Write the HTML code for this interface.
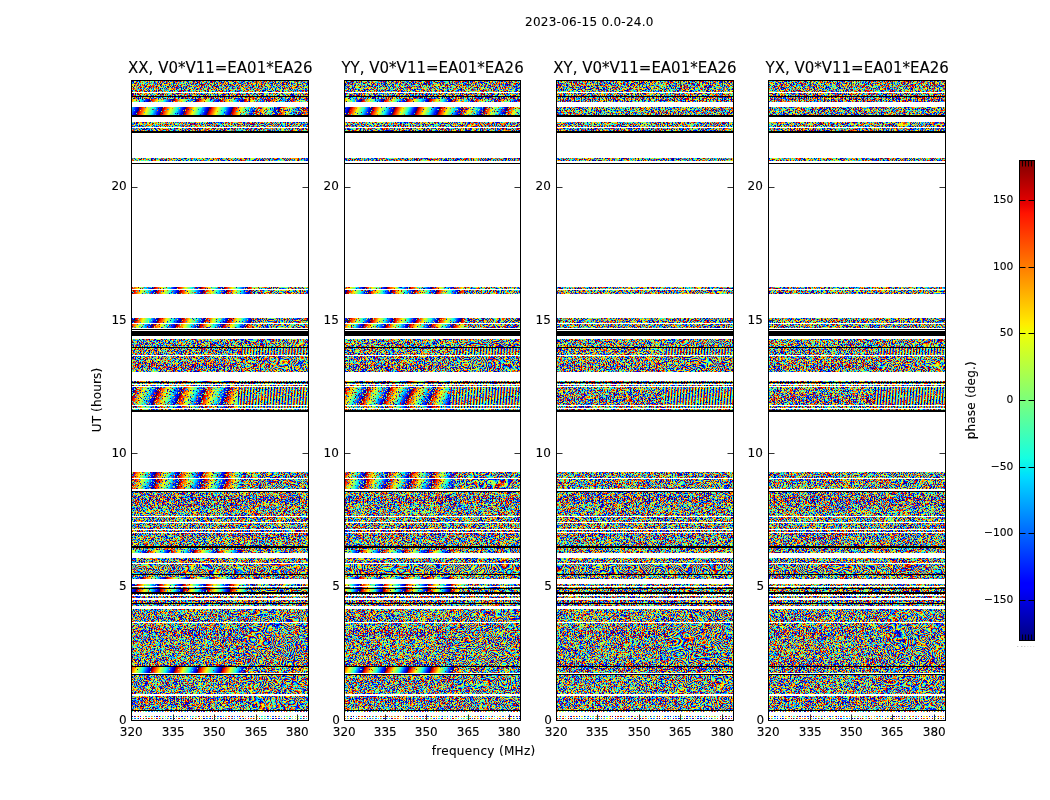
<!DOCTYPE html><html><head><meta charset="utf-8"><title>phase plot</title><style>html,body{margin:0;padding:0;background:#fff}svg{display:block}text{font-family:"DejaVu Sans","Bitstream Vera Sans","Liberation Sans",sans-serif;fill:#000;stroke:#000;stroke-width:0.1px}</style></head><body>
<svg width="1050" height="800" viewBox="0 0 1050 800">
<defs><linearGradient id="gv" gradientUnits="userSpaceOnUse" spreadMethod="repeat" x1="0" y1="0" x2="2.93" y2="0.22"><stop offset="0" stop-color="#000080"/><stop offset="0.11" stop-color="#0000ff"/><stop offset="0.12" stop-color="#0000ff"/><stop offset="0.34" stop-color="#00dbff"/><stop offset="0.35" stop-color="#00e5f7"/><stop offset="0.38" stop-color="#15ffe2"/><stop offset="0.5" stop-color="#7bff7b"/><stop offset="0.64" stop-color="#efff08"/><stop offset="0.65" stop-color="#f7f600"/><stop offset="0.66" stop-color="#ffec00"/><stop offset="0.89" stop-color="#ff1300"/><stop offset="0.91" stop-color="#e80000"/><stop offset="1" stop-color="#800000"/></linearGradient><linearGradient id="cb" x1="0" y1="1" x2="0" y2="0"><stop offset="0" stop-color="#000080"/><stop offset="0.11" stop-color="#0000ff"/><stop offset="0.12" stop-color="#0000ff"/><stop offset="0.34" stop-color="#00dbff"/><stop offset="0.35" stop-color="#00e5f7"/><stop offset="0.38" stop-color="#15ffe2"/><stop offset="0.5" stop-color="#7bff7b"/><stop offset="0.64" stop-color="#efff08"/><stop offset="0.65" stop-color="#f7f600"/><stop offset="0.66" stop-color="#ffec00"/><stop offset="0.89" stop-color="#ff1300"/><stop offset="0.91" stop-color="#e80000"/><stop offset="1" stop-color="#800000"/></linearGradient><filter id="nz" x="0" y="0" width="100%" height="100%" color-interpolation-filters="sRGB"><feTurbulence type="fractalNoise" baseFrequency="0.72 0.97" numOctaves="2" seed="3"/><feColorMatrix type="matrix" values="1 0 0 0 0 1 0 0 0 0 1 0 0 0 0 0 0 0 0 1"/><feComponentTransfer><feFuncR type="discrete" tableValues="0 0 0 0 0 0 0 0 0 0 0 0.03 0.13 0.23 0.33 0.43 0.53 0.64 0.74 0.84 0.94 1 1 1 1 1 1 1 1 0.86 0.71 0.57 0 0 0 0 0 0 0 0 0 0 0 0.03 0.13 0.23 0.33 0.43 0.53 0.64 0.74 0.84 0.94 1 1 1 1 1 1 1 1 0.86 0.71 0.57 0 0 0 0 0 0 0 0 0 0 0 0.03 0.13 0.23 0.33 0.43 0.53 0.64 0.74 0.84 0.94 1 1 1 1 1 1 1 1 0.86 0.71 0.57 0 0 0 0 0 0 0 0 0 0 0 0.03 0.13 0.23 0.33 0.43 0.53 0.64 0.74 0.84 0.94 1 1 1 1 1 1 1 1 0.86 0.71 0.57"/><feFuncG type="discrete" tableValues="0 0 0 0 0.06 0.19 0.31 0.44 0.56 0.69 0.81 0.94 1 1 1 1 1 1 1 1 1 0.88 0.77 0.65 0.53 0.42 0.3 0.19 0.07 0 0 0 0 0 0 0 0.06 0.19 0.31 0.44 0.56 0.69 0.81 0.94 1 1 1 1 1 1 1 1 1 0.88 0.77 0.65 0.53 0.42 0.3 0.19 0.07 0 0 0 0 0 0 0 0.06 0.19 0.31 0.44 0.56 0.69 0.81 0.94 1 1 1 1 1 1 1 1 1 0.88 0.77 0.65 0.53 0.42 0.3 0.19 0.07 0 0 0 0 0 0 0 0.06 0.19 0.31 0.44 0.56 0.69 0.81 0.94 1 1 1 1 1 1 1 1 1 0.88 0.77 0.65 0.53 0.42 0.3 0.19 0.07 0 0 0"/><feFuncB type="discrete" tableValues="0.57 0.71 0.86 1 1 1 1 1 1 1 1 0.94 0.84 0.74 0.64 0.53 0.43 0.33 0.23 0.13 0.03 0 0 0 0 0 0 0 0 0 0 0 0.57 0.71 0.86 1 1 1 1 1 1 1 1 0.94 0.84 0.74 0.64 0.53 0.43 0.33 0.23 0.13 0.03 0 0 0 0 0 0 0 0 0 0 0 0.57 0.71 0.86 1 1 1 1 1 1 1 1 0.94 0.84 0.74 0.64 0.53 0.43 0.33 0.23 0.13 0.03 0 0 0 0 0 0 0 0 0 0 0 0.57 0.71 0.86 1 1 1 1 1 1 1 1 0.94 0.84 0.74 0.64 0.53 0.43 0.33 0.23 0.13 0.03 0 0 0 0 0 0 0 0 0 0 0"/></feComponentTransfer><feComposite in2="SourceAlpha" operator="in"/></filter><filter id="np" x="0" y="0" width="100%" height="100%" color-interpolation-filters="sRGB"><feTurbulence type="fractalNoise" baseFrequency="0.74 0.95" numOctaves="2" seed="11" result="t"/><feColorMatrix type="matrix" values="1 0 0 0 0 1 0 0 0 0 1 0 0 0 0 0 0 0 0 1"/><feComponentTransfer><feFuncR type="discrete" tableValues="0 0 0 0 0 0 0 0 0 0 0 0.03 0.13 0.23 0.33 0.43 0.53 0.64 0.74 0.84 0.94 1 1 1 1 1 1 1 1 0.86 0.71 0.57 0 0 0 0 0 0 0 0 0 0 0 0.03 0.13 0.23 0.33 0.43 0.53 0.64 0.74 0.84 0.94 1 1 1 1 1 1 1 1 0.86 0.71 0.57 0 0 0 0 0 0 0 0 0 0 0 0.03 0.13 0.23 0.33 0.43 0.53 0.64 0.74 0.84 0.94 1 1 1 1 1 1 1 1 0.86 0.71 0.57 0 0 0 0 0 0 0 0 0 0 0 0.03 0.13 0.23 0.33 0.43 0.53 0.64 0.74 0.84 0.94 1 1 1 1 1 1 1 1 0.86 0.71 0.57"/><feFuncG type="discrete" tableValues="0 0 0 0 0.06 0.19 0.31 0.44 0.56 0.69 0.81 0.94 1 1 1 1 1 1 1 1 1 0.88 0.77 0.65 0.53 0.42 0.3 0.19 0.07 0 0 0 0 0 0 0 0.06 0.19 0.31 0.44 0.56 0.69 0.81 0.94 1 1 1 1 1 1 1 1 1 0.88 0.77 0.65 0.53 0.42 0.3 0.19 0.07 0 0 0 0 0 0 0 0.06 0.19 0.31 0.44 0.56 0.69 0.81 0.94 1 1 1 1 1 1 1 1 1 0.88 0.77 0.65 0.53 0.42 0.3 0.19 0.07 0 0 0 0 0 0 0 0.06 0.19 0.31 0.44 0.56 0.69 0.81 0.94 1 1 1 1 1 1 1 1 1 0.88 0.77 0.65 0.53 0.42 0.3 0.19 0.07 0 0 0"/><feFuncB type="discrete" tableValues="0.57 0.71 0.86 1 1 1 1 1 1 1 1 0.94 0.84 0.74 0.64 0.53 0.43 0.33 0.23 0.13 0.03 0 0 0 0 0 0 0 0 0 0 0 0.57 0.71 0.86 1 1 1 1 1 1 1 1 0.94 0.84 0.74 0.64 0.53 0.43 0.33 0.23 0.13 0.03 0 0 0 0 0 0 0 0 0 0 0 0.57 0.71 0.86 1 1 1 1 1 1 1 1 0.94 0.84 0.74 0.64 0.53 0.43 0.33 0.23 0.13 0.03 0 0 0 0 0 0 0 0 0 0 0 0.57 0.71 0.86 1 1 1 1 1 1 1 1 0.94 0.84 0.74 0.64 0.53 0.43 0.33 0.23 0.13 0.03 0 0 0 0 0 0 0 0 0 0 0"/></feComponentTransfer><feOffset result="j"/><feColorMatrix in="t" type="matrix" values="0 0 0 0 0 0 0 0 0 0 0 0 0 0 0 0 1 0 0 0" result="m"/><feComposite in="m" in2="SourceGraphic" operator="arithmetic" k1="0" k2="1" k3="1" k4="-0.5"/><feComponentTransfer><feFuncA type="discrete" tableValues="0 1"/></feComponentTransfer><feComposite in="j" operator="in"/></filter><filter id="mo" x="0" y="0" width="100%" height="100%" color-interpolation-filters="sRGB"><feTurbulence type="fractalNoise" baseFrequency="0.045 0.05" numOctaves="2" seed="7"/><feColorMatrix type="matrix" values="1 0 0 0 0 1 0 0 0 0 1 0 0 0 0 0 0 0 0 1"/><feComponentTransfer><feFuncR type="discrete" tableValues="0 0 0 0 0.32 0.65 0.97 1 1 0.73 0 0 0 0 0.32 0.65 0.97 1 1 0.73 0 0 0 0 0.32 0.65 0.97 1 1 0.73 0 0 0 0 0.32 0.65 0.97 1 1 0.73 0 0 0 0 0.32 0.65 0.97 1 1 0.73 0 0 0 0 0.32 0.65 0.97 1 1 0.73 0 0 0 0 0.32 0.65 0.97 1 1 0.73 0 0 0 0 0.32 0.65 0.97 1 1 0.73 0 0 0 0 0.32 0.65 0.97 1 1 0.73 0 0 0 0 0.32 0.65 0.97 1 1 0.73 0 0 0 0 0.32 0.65 0.97 1 1 0.73 0 0 0 0 0.32 0.65 0.97 1 1 0.73 0 0 0 0 0.32 0.65 0.97 1 1 0.73 0 0 0 0 0.32 0.65 0.97 1 1 0.73 0 0 0 0 0.32 0.65 0.97 1 1 0.73 0 0 0 0 0.32 0.65 0.97 1 1 0.73 0 0 0 0 0.32 0.65 0.97 1 1 0.73 0 0 0 0 0.32 0.65 0.97 1 1 0.73 0 0 0 0 0.32 0.65 0.97 1 1 0.73 0 0 0 0 0.32 0.65 0.97 1 1 0.73"/><feFuncG type="discrete" tableValues="0 0.1 0.5 0.9 1 1 0.96 0.59 0.22 0 0 0.1 0.5 0.9 1 1 0.96 0.59 0.22 0 0 0.1 0.5 0.9 1 1 0.96 0.59 0.22 0 0 0.1 0.5 0.9 1 1 0.96 0.59 0.22 0 0 0.1 0.5 0.9 1 1 0.96 0.59 0.22 0 0 0.1 0.5 0.9 1 1 0.96 0.59 0.22 0 0 0.1 0.5 0.9 1 1 0.96 0.59 0.22 0 0 0.1 0.5 0.9 1 1 0.96 0.59 0.22 0 0 0.1 0.5 0.9 1 1 0.96 0.59 0.22 0 0 0.1 0.5 0.9 1 1 0.96 0.59 0.22 0 0 0.1 0.5 0.9 1 1 0.96 0.59 0.22 0 0 0.1 0.5 0.9 1 1 0.96 0.59 0.22 0 0 0.1 0.5 0.9 1 1 0.96 0.59 0.22 0 0 0.1 0.5 0.9 1 1 0.96 0.59 0.22 0 0 0.1 0.5 0.9 1 1 0.96 0.59 0.22 0 0 0.1 0.5 0.9 1 1 0.96 0.59 0.22 0 0 0.1 0.5 0.9 1 1 0.96 0.59 0.22 0 0 0.1 0.5 0.9 1 1 0.96 0.59 0.22 0 0 0.1 0.5 0.9 1 1 0.96 0.59 0.22 0 0 0.1 0.5 0.9 1 1 0.96 0.59 0.22 0"/><feFuncB type="discrete" tableValues="0.73 1 1 0.97 0.65 0.32 0 0 0 0 0.73 1 1 0.97 0.65 0.32 0 0 0 0 0.73 1 1 0.97 0.65 0.32 0 0 0 0 0.73 1 1 0.97 0.65 0.32 0 0 0 0 0.73 1 1 0.97 0.65 0.32 0 0 0 0 0.73 1 1 0.97 0.65 0.32 0 0 0 0 0.73 1 1 0.97 0.65 0.32 0 0 0 0 0.73 1 1 0.97 0.65 0.32 0 0 0 0 0.73 1 1 0.97 0.65 0.32 0 0 0 0 0.73 1 1 0.97 0.65 0.32 0 0 0 0 0.73 1 1 0.97 0.65 0.32 0 0 0 0 0.73 1 1 0.97 0.65 0.32 0 0 0 0 0.73 1 1 0.97 0.65 0.32 0 0 0 0 0.73 1 1 0.97 0.65 0.32 0 0 0 0 0.73 1 1 0.97 0.65 0.32 0 0 0 0 0.73 1 1 0.97 0.65 0.32 0 0 0 0 0.73 1 1 0.97 0.65 0.32 0 0 0 0 0.73 1 1 0.97 0.65 0.32 0 0 0 0 0.73 1 1 0.97 0.65 0.32 0 0 0 0 0.73 1 1 0.97 0.65 0.32 0 0 0 0"/></feComponentTransfer><feComposite in2="SourceAlpha" operator="in"/></filter><linearGradient id="mr"><stop offset="0" stop-opacity="0.75"/><stop offset="0.2" stop-opacity="0.41"/><stop offset="0.9" stop-opacity="0.41"/><stop offset="1" stop-opacity="0.6"/></linearGradient><linearGradient id="g1" gradientUnits="userSpaceOnUse" spreadMethod="repeat" x1="170.56" y1="107.1" x2="150.3" y2="99"><stop offset="0" stop-color="#000080"/><stop offset="0.11" stop-color="#0000ff"/><stop offset="0.12" stop-color="#0000ff"/><stop offset="0.34" stop-color="#00dbff"/><stop offset="0.35" stop-color="#00e5f7"/><stop offset="0.38" stop-color="#15ffe2"/><stop offset="0.5" stop-color="#7bff7b"/><stop offset="0.64" stop-color="#efff08"/><stop offset="0.65" stop-color="#f7f600"/><stop offset="0.66" stop-color="#ffec00"/><stop offset="0.89" stop-color="#ff1300"/><stop offset="0.91" stop-color="#e80000"/><stop offset="1" stop-color="#800000"/></linearGradient><linearGradient id="r0"><stop offset="0.58" stop-opacity="0.42"/><stop offset="0.66" stop-opacity="0.52"/></linearGradient><linearGradient id="g2" gradientUnits="userSpaceOnUse" spreadMethod="repeat" x1="159.76" y1="115.1" x2="139.5" y2="107"><stop offset="0" stop-color="#000080"/><stop offset="0.11" stop-color="#0000ff"/><stop offset="0.12" stop-color="#0000ff"/><stop offset="0.34" stop-color="#00dbff"/><stop offset="0.35" stop-color="#00e5f7"/><stop offset="0.38" stop-color="#15ffe2"/><stop offset="0.5" stop-color="#7bff7b"/><stop offset="0.64" stop-color="#efff08"/><stop offset="0.65" stop-color="#f7f600"/><stop offset="0.66" stop-color="#ffec00"/><stop offset="0.89" stop-color="#ff1300"/><stop offset="0.91" stop-color="#e80000"/><stop offset="1" stop-color="#800000"/></linearGradient><linearGradient id="r1"><stop offset="0.58" stop-opacity="0.3"/><stop offset="0.66" stop-opacity="0.5"/></linearGradient><linearGradient id="g3" gradientUnits="userSpaceOnUse" spreadMethod="repeat" x1="174.16" y1="295.1" x2="153.9" y2="287"><stop offset="0" stop-color="#000080"/><stop offset="0.11" stop-color="#0000ff"/><stop offset="0.12" stop-color="#0000ff"/><stop offset="0.34" stop-color="#00dbff"/><stop offset="0.35" stop-color="#00e5f7"/><stop offset="0.38" stop-color="#15ffe2"/><stop offset="0.5" stop-color="#7bff7b"/><stop offset="0.64" stop-color="#efff08"/><stop offset="0.65" stop-color="#f7f600"/><stop offset="0.66" stop-color="#ffec00"/><stop offset="0.89" stop-color="#ff1300"/><stop offset="0.91" stop-color="#e80000"/><stop offset="1" stop-color="#800000"/></linearGradient><linearGradient id="r2"><stop offset="0.58" stop-opacity="0.4"/><stop offset="0.66" stop-opacity="0.4"/></linearGradient><linearGradient id="g4" gradientUnits="userSpaceOnUse" spreadMethod="repeat" x1="153.56" y1="298.1" x2="133.3" y2="290"><stop offset="0" stop-color="#000080"/><stop offset="0.11" stop-color="#0000ff"/><stop offset="0.12" stop-color="#0000ff"/><stop offset="0.34" stop-color="#00dbff"/><stop offset="0.35" stop-color="#00e5f7"/><stop offset="0.38" stop-color="#15ffe2"/><stop offset="0.5" stop-color="#7bff7b"/><stop offset="0.64" stop-color="#efff08"/><stop offset="0.65" stop-color="#f7f600"/><stop offset="0.66" stop-color="#ffec00"/><stop offset="0.89" stop-color="#ff1300"/><stop offset="0.91" stop-color="#e80000"/><stop offset="1" stop-color="#800000"/></linearGradient><linearGradient id="g5" gradientUnits="userSpaceOnUse" spreadMethod="repeat" x1="155.56" y1="326.1" x2="135.3" y2="318"><stop offset="0" stop-color="#000080"/><stop offset="0.11" stop-color="#0000ff"/><stop offset="0.12" stop-color="#0000ff"/><stop offset="0.34" stop-color="#00dbff"/><stop offset="0.35" stop-color="#00e5f7"/><stop offset="0.38" stop-color="#15ffe2"/><stop offset="0.5" stop-color="#7bff7b"/><stop offset="0.64" stop-color="#efff08"/><stop offset="0.65" stop-color="#f7f600"/><stop offset="0.66" stop-color="#ffec00"/><stop offset="0.89" stop-color="#ff1300"/><stop offset="0.91" stop-color="#e80000"/><stop offset="1" stop-color="#800000"/></linearGradient><linearGradient id="g6" gradientUnits="userSpaceOnUse" spreadMethod="repeat" x1="173.56" y1="332.1" x2="153.3" y2="324"><stop offset="0" stop-color="#000080"/><stop offset="0.11" stop-color="#0000ff"/><stop offset="0.12" stop-color="#0000ff"/><stop offset="0.34" stop-color="#00dbff"/><stop offset="0.35" stop-color="#00e5f7"/><stop offset="0.38" stop-color="#15ffe2"/><stop offset="0.5" stop-color="#7bff7b"/><stop offset="0.64" stop-color="#efff08"/><stop offset="0.65" stop-color="#f7f600"/><stop offset="0.66" stop-color="#ffec00"/><stop offset="0.89" stop-color="#ff1300"/><stop offset="0.91" stop-color="#e80000"/><stop offset="1" stop-color="#800000"/></linearGradient><linearGradient id="g7" gradientUnits="userSpaceOnUse" spreadMethod="repeat" x1="156.96" y1="389.1" x2="136.7" y2="381"><stop offset="0" stop-color="#000080"/><stop offset="0.11" stop-color="#0000ff"/><stop offset="0.12" stop-color="#0000ff"/><stop offset="0.34" stop-color="#00dbff"/><stop offset="0.35" stop-color="#00e5f7"/><stop offset="0.38" stop-color="#15ffe2"/><stop offset="0.5" stop-color="#7bff7b"/><stop offset="0.64" stop-color="#efff08"/><stop offset="0.65" stop-color="#f7f600"/><stop offset="0.66" stop-color="#ffec00"/><stop offset="0.89" stop-color="#ff1300"/><stop offset="0.91" stop-color="#e80000"/><stop offset="1" stop-color="#800000"/></linearGradient><linearGradient id="r3"><stop offset="0.58" stop-opacity="0.45"/><stop offset="0.66" stop-opacity="0.45"/></linearGradient><linearGradient id="g8" gradientUnits="userSpaceOnUse" spreadMethod="repeat" x1="156.36" y1="395.1" x2="136.1" y2="387"><stop offset="0" stop-color="#000080"/><stop offset="0.11" stop-color="#0000ff"/><stop offset="0.12" stop-color="#0000ff"/><stop offset="0.34" stop-color="#00dbff"/><stop offset="0.35" stop-color="#00e5f7"/><stop offset="0.38" stop-color="#15ffe2"/><stop offset="0.5" stop-color="#7bff7b"/><stop offset="0.64" stop-color="#efff08"/><stop offset="0.65" stop-color="#f7f600"/><stop offset="0.66" stop-color="#ffec00"/><stop offset="0.89" stop-color="#ff1300"/><stop offset="0.91" stop-color="#e80000"/><stop offset="1" stop-color="#800000"/></linearGradient><linearGradient id="r4"><stop offset="0.58" stop-opacity="0.46"/><stop offset="0.66" stop-opacity="0.46"/></linearGradient><linearGradient id="g9" gradientUnits="userSpaceOnUse" spreadMethod="repeat" x1="155.16" y1="414.1" x2="134.9" y2="406"><stop offset="0" stop-color="#000080"/><stop offset="0.11" stop-color="#0000ff"/><stop offset="0.12" stop-color="#0000ff"/><stop offset="0.34" stop-color="#00dbff"/><stop offset="0.35" stop-color="#00e5f7"/><stop offset="0.38" stop-color="#15ffe2"/><stop offset="0.5" stop-color="#7bff7b"/><stop offset="0.64" stop-color="#efff08"/><stop offset="0.65" stop-color="#f7f600"/><stop offset="0.66" stop-color="#ffec00"/><stop offset="0.89" stop-color="#ff1300"/><stop offset="0.91" stop-color="#e80000"/><stop offset="1" stop-color="#800000"/></linearGradient><linearGradient id="r5"><stop offset="0.58" stop-opacity="0.5"/><stop offset="0.66" stop-opacity="0.5"/></linearGradient><linearGradient id="g10" gradientUnits="userSpaceOnUse" spreadMethod="repeat" x1="152.96" y1="480.1" x2="132.7" y2="472"><stop offset="0" stop-color="#000080"/><stop offset="0.11" stop-color="#0000ff"/><stop offset="0.12" stop-color="#0000ff"/><stop offset="0.34" stop-color="#00dbff"/><stop offset="0.35" stop-color="#00e5f7"/><stop offset="0.38" stop-color="#15ffe2"/><stop offset="0.5" stop-color="#7bff7b"/><stop offset="0.64" stop-color="#efff08"/><stop offset="0.65" stop-color="#f7f600"/><stop offset="0.66" stop-color="#ffec00"/><stop offset="0.89" stop-color="#ff1300"/><stop offset="0.91" stop-color="#e80000"/><stop offset="1" stop-color="#800000"/></linearGradient><linearGradient id="g11" gradientUnits="userSpaceOnUse" spreadMethod="repeat" x1="153.76" y1="487.1" x2="133.5" y2="479"><stop offset="0" stop-color="#000080"/><stop offset="0.11" stop-color="#0000ff"/><stop offset="0.12" stop-color="#0000ff"/><stop offset="0.34" stop-color="#00dbff"/><stop offset="0.35" stop-color="#00e5f7"/><stop offset="0.38" stop-color="#15ffe2"/><stop offset="0.5" stop-color="#7bff7b"/><stop offset="0.64" stop-color="#efff08"/><stop offset="0.65" stop-color="#f7f600"/><stop offset="0.66" stop-color="#ffec00"/><stop offset="0.89" stop-color="#ff1300"/><stop offset="0.91" stop-color="#e80000"/><stop offset="1" stop-color="#800000"/></linearGradient><linearGradient id="g12" gradientUnits="userSpaceOnUse" spreadMethod="repeat" x1="167.86" y1="558.1" x2="147.6" y2="550"><stop offset="0" stop-color="#000080"/><stop offset="0.11" stop-color="#0000ff"/><stop offset="0.12" stop-color="#0000ff"/><stop offset="0.34" stop-color="#00dbff"/><stop offset="0.35" stop-color="#00e5f7"/><stop offset="0.38" stop-color="#15ffe2"/><stop offset="0.5" stop-color="#7bff7b"/><stop offset="0.64" stop-color="#efff08"/><stop offset="0.65" stop-color="#f7f600"/><stop offset="0.66" stop-color="#ffec00"/><stop offset="0.89" stop-color="#ff1300"/><stop offset="0.91" stop-color="#e80000"/><stop offset="1" stop-color="#800000"/></linearGradient><linearGradient id="r6"><stop offset="0.58" stop-opacity="0.4"/><stop offset="0.66" stop-opacity="0.6"/></linearGradient><linearGradient id="r7"><stop offset="0.58" stop-opacity="0.36"/><stop offset="0.66" stop-opacity="0.36"/></linearGradient><linearGradient id="g13" gradientUnits="userSpaceOnUse" spreadMethod="repeat" x1="163.16" y1="585.1" x2="142.9" y2="577"><stop offset="0" stop-color="#000080"/><stop offset="0.11" stop-color="#0000ff"/><stop offset="0.12" stop-color="#0000ff"/><stop offset="0.34" stop-color="#00dbff"/><stop offset="0.35" stop-color="#00e5f7"/><stop offset="0.38" stop-color="#15ffe2"/><stop offset="0.5" stop-color="#7bff7b"/><stop offset="0.64" stop-color="#efff08"/><stop offset="0.65" stop-color="#f7f600"/><stop offset="0.66" stop-color="#ffec00"/><stop offset="0.89" stop-color="#ff1300"/><stop offset="0.91" stop-color="#e80000"/><stop offset="1" stop-color="#800000"/></linearGradient><linearGradient id="g14" gradientUnits="userSpaceOnUse" spreadMethod="repeat" x1="156.16" y1="592.1" x2="135.9" y2="584"><stop offset="0" stop-color="#000080"/><stop offset="0.11" stop-color="#0000ff"/><stop offset="0.12" stop-color="#0000ff"/><stop offset="0.34" stop-color="#00dbff"/><stop offset="0.35" stop-color="#00e5f7"/><stop offset="0.38" stop-color="#15ffe2"/><stop offset="0.5" stop-color="#7bff7b"/><stop offset="0.64" stop-color="#efff08"/><stop offset="0.65" stop-color="#f7f600"/><stop offset="0.66" stop-color="#ffec00"/><stop offset="0.89" stop-color="#ff1300"/><stop offset="0.91" stop-color="#e80000"/><stop offset="1" stop-color="#800000"/></linearGradient><linearGradient id="r8"><stop offset="0.58" stop-opacity="0.35"/><stop offset="0.66" stop-opacity="0.55"/></linearGradient><linearGradient id="g15" gradientUnits="userSpaceOnUse" spreadMethod="repeat" x1="155.96" y1="595.1" x2="135.7" y2="587"><stop offset="0" stop-color="#000080"/><stop offset="0.11" stop-color="#0000ff"/><stop offset="0.12" stop-color="#0000ff"/><stop offset="0.34" stop-color="#00dbff"/><stop offset="0.35" stop-color="#00e5f7"/><stop offset="0.38" stop-color="#15ffe2"/><stop offset="0.5" stop-color="#7bff7b"/><stop offset="0.64" stop-color="#efff08"/><stop offset="0.65" stop-color="#f7f600"/><stop offset="0.66" stop-color="#ffec00"/><stop offset="0.89" stop-color="#ff1300"/><stop offset="0.91" stop-color="#e80000"/><stop offset="1" stop-color="#800000"/></linearGradient><linearGradient id="g16" gradientUnits="userSpaceOnUse" spreadMethod="repeat" x1="156.96" y1="597.1" x2="136.7" y2="589"><stop offset="0" stop-color="#000080"/><stop offset="0.11" stop-color="#0000ff"/><stop offset="0.12" stop-color="#0000ff"/><stop offset="0.34" stop-color="#00dbff"/><stop offset="0.35" stop-color="#00e5f7"/><stop offset="0.38" stop-color="#15ffe2"/><stop offset="0.5" stop-color="#7bff7b"/><stop offset="0.64" stop-color="#efff08"/><stop offset="0.65" stop-color="#f7f600"/><stop offset="0.66" stop-color="#ffec00"/><stop offset="0.89" stop-color="#ff1300"/><stop offset="0.91" stop-color="#e80000"/><stop offset="1" stop-color="#800000"/></linearGradient><linearGradient id="r9"><stop offset="0.58" stop-opacity="0.35"/><stop offset="0.66" stop-opacity="0.35"/></linearGradient><linearGradient id="g17" gradientUnits="userSpaceOnUse" spreadMethod="repeat" x1="172.71" y1="675.1" x2="152.45" y2="667"><stop offset="0" stop-color="#000080"/><stop offset="0.11" stop-color="#0000ff"/><stop offset="0.12" stop-color="#0000ff"/><stop offset="0.34" stop-color="#00dbff"/><stop offset="0.35" stop-color="#00e5f7"/><stop offset="0.38" stop-color="#15ffe2"/><stop offset="0.5" stop-color="#7bff7b"/><stop offset="0.64" stop-color="#efff08"/><stop offset="0.65" stop-color="#f7f600"/><stop offset="0.66" stop-color="#ffec00"/><stop offset="0.89" stop-color="#ff1300"/><stop offset="0.91" stop-color="#e80000"/><stop offset="1" stop-color="#800000"/></linearGradient><linearGradient id="r10"><stop offset="0.58" stop-opacity="0.25"/><stop offset="0.66" stop-opacity="0.62"/></linearGradient><linearGradient id="g18" gradientUnits="userSpaceOnUse" spreadMethod="repeat" x1="380.89" y1="107.42" x2="362.18" y2="99"><stop offset="0" stop-color="#000080"/><stop offset="0.11" stop-color="#0000ff"/><stop offset="0.12" stop-color="#0000ff"/><stop offset="0.34" stop-color="#00dbff"/><stop offset="0.35" stop-color="#00e5f7"/><stop offset="0.38" stop-color="#15ffe2"/><stop offset="0.5" stop-color="#7bff7b"/><stop offset="0.64" stop-color="#efff08"/><stop offset="0.65" stop-color="#f7f600"/><stop offset="0.66" stop-color="#ffec00"/><stop offset="0.89" stop-color="#ff1300"/><stop offset="0.91" stop-color="#e80000"/><stop offset="1" stop-color="#800000"/></linearGradient><linearGradient id="r11"><stop offset="0.58" stop-opacity="0.4"/><stop offset="0.66" stop-opacity="0.5"/></linearGradient><linearGradient id="g19" gradientUnits="userSpaceOnUse" spreadMethod="repeat" x1="369.31" y1="115.42" x2="350.6" y2="107"><stop offset="0" stop-color="#000080"/><stop offset="0.11" stop-color="#0000ff"/><stop offset="0.12" stop-color="#0000ff"/><stop offset="0.34" stop-color="#00dbff"/><stop offset="0.35" stop-color="#00e5f7"/><stop offset="0.38" stop-color="#15ffe2"/><stop offset="0.5" stop-color="#7bff7b"/><stop offset="0.64" stop-color="#efff08"/><stop offset="0.65" stop-color="#f7f600"/><stop offset="0.66" stop-color="#ffec00"/><stop offset="0.89" stop-color="#ff1300"/><stop offset="0.91" stop-color="#e80000"/><stop offset="1" stop-color="#800000"/></linearGradient><linearGradient id="r12"><stop offset="0.58" stop-opacity="0.3"/><stop offset="0.66" stop-opacity="0.45"/></linearGradient><linearGradient id="g20" gradientUnits="userSpaceOnUse" spreadMethod="repeat" x1="383.66" y1="295.42" x2="364.95" y2="287"><stop offset="0" stop-color="#000080"/><stop offset="0.11" stop-color="#0000ff"/><stop offset="0.12" stop-color="#0000ff"/><stop offset="0.34" stop-color="#00dbff"/><stop offset="0.35" stop-color="#00e5f7"/><stop offset="0.38" stop-color="#15ffe2"/><stop offset="0.5" stop-color="#7bff7b"/><stop offset="0.64" stop-color="#efff08"/><stop offset="0.65" stop-color="#f7f600"/><stop offset="0.66" stop-color="#ffec00"/><stop offset="0.89" stop-color="#ff1300"/><stop offset="0.91" stop-color="#e80000"/><stop offset="1" stop-color="#800000"/></linearGradient><linearGradient id="g21" gradientUnits="userSpaceOnUse" spreadMethod="repeat" x1="366.11" y1="298.42" x2="347.4" y2="290"><stop offset="0" stop-color="#000080"/><stop offset="0.11" stop-color="#0000ff"/><stop offset="0.12" stop-color="#0000ff"/><stop offset="0.34" stop-color="#00dbff"/><stop offset="0.35" stop-color="#00e5f7"/><stop offset="0.38" stop-color="#15ffe2"/><stop offset="0.5" stop-color="#7bff7b"/><stop offset="0.64" stop-color="#efff08"/><stop offset="0.65" stop-color="#f7f600"/><stop offset="0.66" stop-color="#ffec00"/><stop offset="0.89" stop-color="#ff1300"/><stop offset="0.91" stop-color="#e80000"/><stop offset="1" stop-color="#800000"/></linearGradient><linearGradient id="g22" gradientUnits="userSpaceOnUse" spreadMethod="repeat" x1="368.34" y1="326.42" x2="349.62" y2="318"><stop offset="0" stop-color="#000080"/><stop offset="0.11" stop-color="#0000ff"/><stop offset="0.12" stop-color="#0000ff"/><stop offset="0.34" stop-color="#00dbff"/><stop offset="0.35" stop-color="#00e5f7"/><stop offset="0.38" stop-color="#15ffe2"/><stop offset="0.5" stop-color="#7bff7b"/><stop offset="0.64" stop-color="#efff08"/><stop offset="0.65" stop-color="#f7f600"/><stop offset="0.66" stop-color="#ffec00"/><stop offset="0.89" stop-color="#ff1300"/><stop offset="0.91" stop-color="#e80000"/><stop offset="1" stop-color="#800000"/></linearGradient><linearGradient id="g23" gradientUnits="userSpaceOnUse" spreadMethod="repeat" x1="383.11" y1="332.42" x2="364.4" y2="324"><stop offset="0" stop-color="#000080"/><stop offset="0.11" stop-color="#0000ff"/><stop offset="0.12" stop-color="#0000ff"/><stop offset="0.34" stop-color="#00dbff"/><stop offset="0.35" stop-color="#00e5f7"/><stop offset="0.38" stop-color="#15ffe2"/><stop offset="0.5" stop-color="#7bff7b"/><stop offset="0.64" stop-color="#efff08"/><stop offset="0.65" stop-color="#f7f600"/><stop offset="0.66" stop-color="#ffec00"/><stop offset="0.89" stop-color="#ff1300"/><stop offset="0.91" stop-color="#e80000"/><stop offset="1" stop-color="#800000"/></linearGradient><linearGradient id="g24" gradientUnits="userSpaceOnUse" spreadMethod="repeat" x1="382.44" y1="389.42" x2="363.73" y2="381"><stop offset="0" stop-color="#000080"/><stop offset="0.11" stop-color="#0000ff"/><stop offset="0.12" stop-color="#0000ff"/><stop offset="0.34" stop-color="#00dbff"/><stop offset="0.35" stop-color="#00e5f7"/><stop offset="0.38" stop-color="#15ffe2"/><stop offset="0.5" stop-color="#7bff7b"/><stop offset="0.64" stop-color="#efff08"/><stop offset="0.65" stop-color="#f7f600"/><stop offset="0.66" stop-color="#ffec00"/><stop offset="0.89" stop-color="#ff1300"/><stop offset="0.91" stop-color="#e80000"/><stop offset="1" stop-color="#800000"/></linearGradient><linearGradient id="g25" gradientUnits="userSpaceOnUse" spreadMethod="repeat" x1="386.96" y1="395.42" x2="368.25" y2="387"><stop offset="0" stop-color="#000080"/><stop offset="0.11" stop-color="#0000ff"/><stop offset="0.12" stop-color="#0000ff"/><stop offset="0.34" stop-color="#00dbff"/><stop offset="0.35" stop-color="#00e5f7"/><stop offset="0.38" stop-color="#15ffe2"/><stop offset="0.5" stop-color="#7bff7b"/><stop offset="0.64" stop-color="#efff08"/><stop offset="0.65" stop-color="#f7f600"/><stop offset="0.66" stop-color="#ffec00"/><stop offset="0.89" stop-color="#ff1300"/><stop offset="0.91" stop-color="#e80000"/><stop offset="1" stop-color="#800000"/></linearGradient><linearGradient id="g26" gradientUnits="userSpaceOnUse" spreadMethod="repeat" x1="382.66" y1="414.42" x2="363.95" y2="406"><stop offset="0" stop-color="#000080"/><stop offset="0.11" stop-color="#0000ff"/><stop offset="0.12" stop-color="#0000ff"/><stop offset="0.34" stop-color="#00dbff"/><stop offset="0.35" stop-color="#00e5f7"/><stop offset="0.38" stop-color="#15ffe2"/><stop offset="0.5" stop-color="#7bff7b"/><stop offset="0.64" stop-color="#efff08"/><stop offset="0.65" stop-color="#f7f600"/><stop offset="0.66" stop-color="#ffec00"/><stop offset="0.89" stop-color="#ff1300"/><stop offset="0.91" stop-color="#e80000"/><stop offset="1" stop-color="#800000"/></linearGradient><linearGradient id="g27" gradientUnits="userSpaceOnUse" spreadMethod="repeat" x1="385.16" y1="480.42" x2="366.45" y2="472"><stop offset="0" stop-color="#000080"/><stop offset="0.11" stop-color="#0000ff"/><stop offset="0.12" stop-color="#0000ff"/><stop offset="0.34" stop-color="#00dbff"/><stop offset="0.35" stop-color="#00e5f7"/><stop offset="0.38" stop-color="#15ffe2"/><stop offset="0.5" stop-color="#7bff7b"/><stop offset="0.64" stop-color="#efff08"/><stop offset="0.65" stop-color="#f7f600"/><stop offset="0.66" stop-color="#ffec00"/><stop offset="0.89" stop-color="#ff1300"/><stop offset="0.91" stop-color="#e80000"/><stop offset="1" stop-color="#800000"/></linearGradient><linearGradient id="g28" gradientUnits="userSpaceOnUse" spreadMethod="repeat" x1="386.06" y1="487.42" x2="367.35" y2="479"><stop offset="0" stop-color="#000080"/><stop offset="0.11" stop-color="#0000ff"/><stop offset="0.12" stop-color="#0000ff"/><stop offset="0.34" stop-color="#00dbff"/><stop offset="0.35" stop-color="#00e5f7"/><stop offset="0.38" stop-color="#15ffe2"/><stop offset="0.5" stop-color="#7bff7b"/><stop offset="0.64" stop-color="#efff08"/><stop offset="0.65" stop-color="#f7f600"/><stop offset="0.66" stop-color="#ffec00"/><stop offset="0.89" stop-color="#ff1300"/><stop offset="0.91" stop-color="#e80000"/><stop offset="1" stop-color="#800000"/></linearGradient><linearGradient id="g29" gradientUnits="userSpaceOnUse" spreadMethod="repeat" x1="379.09" y1="558.42" x2="360.38" y2="550"><stop offset="0" stop-color="#000080"/><stop offset="0.11" stop-color="#0000ff"/><stop offset="0.12" stop-color="#0000ff"/><stop offset="0.34" stop-color="#00dbff"/><stop offset="0.35" stop-color="#00e5f7"/><stop offset="0.38" stop-color="#15ffe2"/><stop offset="0.5" stop-color="#7bff7b"/><stop offset="0.64" stop-color="#efff08"/><stop offset="0.65" stop-color="#f7f600"/><stop offset="0.66" stop-color="#ffec00"/><stop offset="0.89" stop-color="#ff1300"/><stop offset="0.91" stop-color="#e80000"/><stop offset="1" stop-color="#800000"/></linearGradient><linearGradient id="g30" gradientUnits="userSpaceOnUse" spreadMethod="repeat" x1="378.16" y1="585.42" x2="359.45" y2="577"><stop offset="0" stop-color="#000080"/><stop offset="0.11" stop-color="#0000ff"/><stop offset="0.12" stop-color="#0000ff"/><stop offset="0.34" stop-color="#00dbff"/><stop offset="0.35" stop-color="#00e5f7"/><stop offset="0.38" stop-color="#15ffe2"/><stop offset="0.5" stop-color="#7bff7b"/><stop offset="0.64" stop-color="#efff08"/><stop offset="0.65" stop-color="#f7f600"/><stop offset="0.66" stop-color="#ffec00"/><stop offset="0.89" stop-color="#ff1300"/><stop offset="0.91" stop-color="#e80000"/><stop offset="1" stop-color="#800000"/></linearGradient><linearGradient id="g31" gradientUnits="userSpaceOnUse" spreadMethod="repeat" x1="379.66" y1="592.42" x2="360.95" y2="584"><stop offset="0" stop-color="#000080"/><stop offset="0.11" stop-color="#0000ff"/><stop offset="0.12" stop-color="#0000ff"/><stop offset="0.34" stop-color="#00dbff"/><stop offset="0.35" stop-color="#00e5f7"/><stop offset="0.38" stop-color="#15ffe2"/><stop offset="0.5" stop-color="#7bff7b"/><stop offset="0.64" stop-color="#efff08"/><stop offset="0.65" stop-color="#f7f600"/><stop offset="0.66" stop-color="#ffec00"/><stop offset="0.89" stop-color="#ff1300"/><stop offset="0.91" stop-color="#e80000"/><stop offset="1" stop-color="#800000"/></linearGradient><linearGradient id="g32" gradientUnits="userSpaceOnUse" spreadMethod="repeat" x1="379.44" y1="595.42" x2="360.73" y2="587"><stop offset="0" stop-color="#000080"/><stop offset="0.11" stop-color="#0000ff"/><stop offset="0.12" stop-color="#0000ff"/><stop offset="0.34" stop-color="#00dbff"/><stop offset="0.35" stop-color="#00e5f7"/><stop offset="0.38" stop-color="#15ffe2"/><stop offset="0.5" stop-color="#7bff7b"/><stop offset="0.64" stop-color="#efff08"/><stop offset="0.65" stop-color="#f7f600"/><stop offset="0.66" stop-color="#ffec00"/><stop offset="0.89" stop-color="#ff1300"/><stop offset="0.91" stop-color="#e80000"/><stop offset="1" stop-color="#800000"/></linearGradient><linearGradient id="g33" gradientUnits="userSpaceOnUse" spreadMethod="repeat" x1="379.89" y1="597.42" x2="361.18" y2="589"><stop offset="0" stop-color="#000080"/><stop offset="0.11" stop-color="#0000ff"/><stop offset="0.12" stop-color="#0000ff"/><stop offset="0.34" stop-color="#00dbff"/><stop offset="0.35" stop-color="#00e5f7"/><stop offset="0.38" stop-color="#15ffe2"/><stop offset="0.5" stop-color="#7bff7b"/><stop offset="0.64" stop-color="#efff08"/><stop offset="0.65" stop-color="#f7f600"/><stop offset="0.66" stop-color="#ffec00"/><stop offset="0.89" stop-color="#ff1300"/><stop offset="0.91" stop-color="#e80000"/><stop offset="1" stop-color="#800000"/></linearGradient><linearGradient id="g34" gradientUnits="userSpaceOnUse" spreadMethod="repeat" x1="383.36" y1="675.42" x2="364.65" y2="667"><stop offset="0" stop-color="#000080"/><stop offset="0.11" stop-color="#0000ff"/><stop offset="0.12" stop-color="#0000ff"/><stop offset="0.34" stop-color="#00dbff"/><stop offset="0.35" stop-color="#00e5f7"/><stop offset="0.38" stop-color="#15ffe2"/><stop offset="0.5" stop-color="#7bff7b"/><stop offset="0.64" stop-color="#efff08"/><stop offset="0.65" stop-color="#f7f600"/><stop offset="0.66" stop-color="#ffec00"/><stop offset="0.89" stop-color="#ff1300"/><stop offset="0.91" stop-color="#e80000"/><stop offset="1" stop-color="#800000"/></linearGradient></defs>
<rect width="1050" height="800" fill="#fff"/>
<g shape-rendering="crispEdges"><rect x="131.5" y="99" width="177" height="3" fill="url(#g1)"/><rect x="131.5" y="107" width="177" height="8" fill="url(#g2)"/><rect x="131.5" y="287" width="177" height="2" fill="url(#g3)"/><rect x="131.5" y="290" width="177" height="4" fill="url(#g4)"/><rect x="131.5" y="318" width="177" height="5" fill="url(#g5)"/><rect x="131.5" y="324" width="177" height="4" fill="url(#g6)"/><rect x="131.5" y="381" width="177" height="1" fill="url(#g7)"/><rect x="131.5" y="387" width="177" height="18" fill="url(#g8)"/><rect x="131.5" y="406" width="177" height="2" fill="url(#g9)"/><rect x="131.5" y="472" width="177" height="6" fill="url(#g10)"/><rect x="131.5" y="479" width="177" height="10" fill="url(#g11)"/><rect x="131.5" y="550" width="177" height="3" fill="url(#g12)"/><rect x="131.5" y="577" width="177" height="2" fill="url(#g13)"/><rect x="131.5" y="584" width="177" height="2" fill="url(#g14)"/><rect x="131.5" y="587" width="177" height="1" fill="url(#g15)"/><rect x="131.5" y="589" width="177" height="3" fill="url(#g16)"/><rect x="131.5" y="667" width="177" height="6" fill="url(#g17)"/><rect x="344.5" y="99" width="176" height="3" fill="url(#g18)"/><rect x="344.5" y="107" width="176" height="8" fill="url(#g19)"/><rect x="344.5" y="287" width="176" height="2" fill="url(#g20)"/><rect x="344.5" y="290" width="176" height="4" fill="url(#g21)"/><rect x="344.5" y="318" width="176" height="5" fill="url(#g22)"/><rect x="344.5" y="324" width="176" height="4" fill="url(#g23)"/><rect x="344.5" y="381" width="176" height="1" fill="url(#g24)"/><rect x="344.5" y="387" width="176" height="18" fill="url(#g25)"/><rect x="344.5" y="406" width="176" height="2" fill="url(#g26)"/><rect x="344.5" y="472" width="176" height="6" fill="url(#g27)"/><rect x="344.5" y="479" width="176" height="10" fill="url(#g28)"/><rect x="344.5" y="550" width="176" height="3" fill="url(#g29)"/><rect x="344.5" y="577" width="176" height="2" fill="url(#g30)"/><rect x="344.5" y="584" width="176" height="2" fill="url(#g31)"/><rect x="344.5" y="587" width="176" height="1" fill="url(#g32)"/><rect x="344.5" y="589" width="176" height="3" fill="url(#g33)"/><rect x="344.5" y="667" width="176" height="6" fill="url(#g34)"/></g>
<g filter="url(#nz)"><rect x="131.5" y="80" width="177" height="12"/><rect x="131.5" y="93" width="177" height="3"/><rect x="131.5" y="97" width="177" height="2"/><rect x="131.5" y="122" width="177" height="5"/><rect x="131.5" y="128" width="177" height="3"/><rect x="131.5" y="158" width="177" height="3"/><rect x="131.5" y="339" width="177" height="8"/><rect x="131.5" y="348" width="177" height="7"/><rect x="131.5" y="356" width="177" height="16"/><rect x="131.5" y="383" width="177" height="1"/><rect x="131.5" y="385" width="177" height="1"/><rect x="131.5" y="409" width="177" height="1"/><rect x="131.5" y="492" width="177" height="24"/><rect x="131.5" y="517" width="177" height="5"/><rect x="131.5" y="523" width="177" height="6"/><rect x="131.5" y="530" width="177" height="2"/><rect x="131.5" y="533" width="177" height="13"/><rect x="131.5" y="548" width="177" height="2"/><rect x="131.5" y="558" width="177" height="5"/><rect x="131.5" y="564" width="177" height="10"/><rect x="131.5" y="575" width="177" height="2"/><rect x="131.5" y="594" width="177" height="1"/><rect x="131.5" y="596" width="177" height="2"/><rect x="131.5" y="600" width="177" height="3"/><rect x="131.5" y="604" width="177" height="2"/><rect x="131.5" y="609" width="177" height="13"/><rect x="131.5" y="623" width="177" height="43"/><rect x="131.5" y="675" width="177" height="19"/><rect x="131.5" y="696" width="177" height="14"/><rect x="131.5" y="711" width="177" height="1"/><rect x="131.5" y="716" width="177" height="1"/><rect x="131.5" y="718" width="177" height="1"/><rect x="344.5" y="80" width="176" height="12"/><rect x="344.5" y="93" width="176" height="3"/><rect x="344.5" y="97" width="176" height="2"/><rect x="344.5" y="122" width="176" height="5"/><rect x="344.5" y="128" width="176" height="3"/><rect x="344.5" y="158" width="176" height="3"/><rect x="344.5" y="339" width="176" height="8"/><rect x="344.5" y="348" width="176" height="7"/><rect x="344.5" y="356" width="176" height="16"/><rect x="344.5" y="383" width="176" height="1"/><rect x="344.5" y="385" width="176" height="1"/><rect x="344.5" y="409" width="176" height="1"/><rect x="344.5" y="492" width="176" height="24"/><rect x="344.5" y="517" width="176" height="5"/><rect x="344.5" y="523" width="176" height="6"/><rect x="344.5" y="530" width="176" height="2"/><rect x="344.5" y="533" width="176" height="13"/><rect x="344.5" y="548" width="176" height="2"/><rect x="344.5" y="558" width="176" height="5"/><rect x="344.5" y="564" width="176" height="10"/><rect x="344.5" y="575" width="176" height="2"/><rect x="344.5" y="594" width="176" height="1"/><rect x="344.5" y="596" width="176" height="2"/><rect x="344.5" y="600" width="176" height="3"/><rect x="344.5" y="604" width="176" height="2"/><rect x="344.5" y="609" width="176" height="13"/><rect x="344.5" y="623" width="176" height="43"/><rect x="344.5" y="675" width="176" height="19"/><rect x="344.5" y="696" width="176" height="14"/><rect x="344.5" y="711" width="176" height="1"/><rect x="344.5" y="716" width="176" height="1"/><rect x="344.5" y="718" width="176" height="1"/><rect x="556.5" y="80" width="177" height="12"/><rect x="556.5" y="93" width="177" height="3"/><rect x="556.5" y="97" width="177" height="2"/><rect x="556.5" y="99" width="177" height="3"/><rect x="556.5" y="107" width="177" height="8"/><rect x="556.5" y="122" width="177" height="5"/><rect x="556.5" y="128" width="177" height="3"/><rect x="556.5" y="158" width="177" height="3"/><rect x="556.5" y="287" width="177" height="2"/><rect x="556.5" y="290" width="177" height="4"/><rect x="556.5" y="318" width="177" height="5"/><rect x="556.5" y="324" width="177" height="4"/><rect x="556.5" y="339" width="177" height="8"/><rect x="556.5" y="348" width="177" height="7"/><rect x="556.5" y="356" width="177" height="16"/><rect x="556.5" y="381" width="177" height="1"/><rect x="556.5" y="383" width="177" height="1"/><rect x="556.5" y="385" width="177" height="1"/><rect x="556.5" y="387" width="177" height="18"/><rect x="556.5" y="406" width="177" height="2"/><rect x="556.5" y="409" width="177" height="1"/><rect x="556.5" y="472" width="177" height="6"/><rect x="556.5" y="479" width="177" height="10"/><rect x="556.5" y="492" width="177" height="24"/><rect x="556.5" y="517" width="177" height="5"/><rect x="556.5" y="523" width="177" height="6"/><rect x="556.5" y="530" width="177" height="2"/><rect x="556.5" y="533" width="177" height="13"/><rect x="556.5" y="548" width="177" height="2"/><rect x="556.5" y="550" width="177" height="3"/><rect x="556.5" y="558" width="177" height="5"/><rect x="556.5" y="564" width="177" height="10"/><rect x="556.5" y="575" width="177" height="2"/><rect x="556.5" y="577" width="177" height="2"/><rect x="556.5" y="584" width="177" height="2"/><rect x="556.5" y="587" width="177" height="1"/><rect x="556.5" y="589" width="177" height="3"/><rect x="556.5" y="594" width="177" height="1"/><rect x="556.5" y="596" width="177" height="2"/><rect x="556.5" y="600" width="177" height="3"/><rect x="556.5" y="604" width="177" height="2"/><rect x="556.5" y="609" width="177" height="13"/><rect x="556.5" y="623" width="177" height="43"/><rect x="556.5" y="667" width="177" height="6"/><rect x="556.5" y="675" width="177" height="19"/><rect x="556.5" y="696" width="177" height="14"/><rect x="556.5" y="711" width="177" height="1"/><rect x="556.5" y="716" width="177" height="1"/><rect x="556.5" y="718" width="177" height="1"/><rect x="768.5" y="80" width="177" height="12"/><rect x="768.5" y="93" width="177" height="3"/><rect x="768.5" y="97" width="177" height="2"/><rect x="768.5" y="99" width="177" height="3"/><rect x="768.5" y="107" width="177" height="8"/><rect x="768.5" y="122" width="177" height="5"/><rect x="768.5" y="128" width="177" height="3"/><rect x="768.5" y="158" width="177" height="3"/><rect x="768.5" y="287" width="177" height="2"/><rect x="768.5" y="290" width="177" height="4"/><rect x="768.5" y="318" width="177" height="5"/><rect x="768.5" y="324" width="177" height="4"/><rect x="768.5" y="339" width="177" height="8"/><rect x="768.5" y="348" width="177" height="7"/><rect x="768.5" y="356" width="177" height="16"/><rect x="768.5" y="381" width="177" height="1"/><rect x="768.5" y="383" width="177" height="1"/><rect x="768.5" y="385" width="177" height="1"/><rect x="768.5" y="387" width="177" height="18"/><rect x="768.5" y="406" width="177" height="2"/><rect x="768.5" y="409" width="177" height="1"/><rect x="768.5" y="472" width="177" height="6"/><rect x="768.5" y="479" width="177" height="10"/><rect x="768.5" y="492" width="177" height="24"/><rect x="768.5" y="517" width="177" height="5"/><rect x="768.5" y="523" width="177" height="6"/><rect x="768.5" y="530" width="177" height="2"/><rect x="768.5" y="533" width="177" height="13"/><rect x="768.5" y="548" width="177" height="2"/><rect x="768.5" y="550" width="177" height="3"/><rect x="768.5" y="558" width="177" height="5"/><rect x="768.5" y="564" width="177" height="10"/><rect x="768.5" y="575" width="177" height="2"/><rect x="768.5" y="577" width="177" height="2"/><rect x="768.5" y="584" width="177" height="2"/><rect x="768.5" y="587" width="177" height="1"/><rect x="768.5" y="589" width="177" height="3"/><rect x="768.5" y="594" width="177" height="1"/><rect x="768.5" y="596" width="177" height="2"/><rect x="768.5" y="600" width="177" height="3"/><rect x="768.5" y="604" width="177" height="2"/><rect x="768.5" y="609" width="177" height="13"/><rect x="768.5" y="623" width="177" height="43"/><rect x="768.5" y="667" width="177" height="6"/><rect x="768.5" y="675" width="177" height="19"/><rect x="768.5" y="696" width="177" height="14"/><rect x="768.5" y="711" width="177" height="1"/><rect x="768.5" y="716" width="177" height="1"/><rect x="768.5" y="718" width="177" height="1"/></g>
<g shape-rendering="crispEdges"><rect x="241.24" y="348" width="67.26" height="7" fill="url(#gv)"/><rect x="237.7" y="381" width="70.8" height="1" fill="url(#gv)"/><rect x="237.7" y="387" width="70.8" height="18" fill="url(#gv)"/><rect x="237.7" y="406" width="70.8" height="2" fill="url(#gv)"/><rect x="453.62" y="348" width="66.88" height="7" fill="url(#gv)"/><rect x="450.1" y="381" width="70.4" height="1" fill="url(#gv)"/><rect x="450.1" y="387" width="70.4" height="18" fill="url(#gv)"/><rect x="450.1" y="406" width="70.4" height="2" fill="url(#gv)"/><rect x="666.24" y="348" width="67.26" height="7" fill="url(#gv)"/><rect x="662.7" y="381" width="70.8" height="1" fill="url(#gv)"/><rect x="662.7" y="387" width="70.8" height="18" fill="url(#gv)"/><rect x="662.7" y="406" width="70.8" height="2" fill="url(#gv)"/><rect x="878.24" y="348" width="67.26" height="7" fill="url(#gv)"/><rect x="874.7" y="381" width="70.8" height="1" fill="url(#gv)"/><rect x="874.7" y="387" width="70.8" height="18" fill="url(#gv)"/><rect x="874.7" y="406" width="70.8" height="2" fill="url(#gv)"/></g>
<g filter="url(#mo)"><rect x="237.7" y="122" width="70.8" height="5"/><rect x="237.7" y="128" width="70.8" height="3"/><rect x="237.7" y="158" width="70.8" height="3"/><rect x="251.86" y="287" width="56.64" height="2"/><rect x="251.86" y="290" width="56.64" height="4"/><rect x="251.86" y="318" width="56.64" height="5"/><rect x="251.86" y="324" width="56.64" height="4"/><rect x="237.7" y="339" width="70.8" height="8"/><rect x="234.16" y="356" width="74.34" height="16"/><rect x="241.24" y="472" width="67.26" height="6"/><rect x="241.24" y="479" width="67.26" height="10"/><rect x="131.5" y="564" width="177" height="10"/><rect x="246.55" y="589" width="61.95" height="3"/><rect x="237.7" y="609" width="70.8" height="13"/><rect x="234.16" y="623" width="74.34" height="43"/><rect x="234.16" y="675" width="74.34" height="19"/><rect x="241.24" y="696" width="67.26" height="14"/><rect x="450.1" y="122" width="70.4" height="5"/><rect x="450.1" y="128" width="70.4" height="3"/><rect x="450.1" y="158" width="70.4" height="3"/><rect x="464.18" y="287" width="56.32" height="2"/><rect x="464.18" y="290" width="56.32" height="4"/><rect x="464.18" y="318" width="56.32" height="5"/><rect x="464.18" y="324" width="56.32" height="4"/><rect x="450.1" y="339" width="70.4" height="8"/><rect x="446.58" y="356" width="73.92" height="16"/><rect x="453.62" y="472" width="66.88" height="6"/><rect x="453.62" y="479" width="66.88" height="10"/><rect x="344.5" y="564" width="176" height="10"/><rect x="458.9" y="589" width="61.6" height="3"/><rect x="450.1" y="609" width="70.4" height="13"/><rect x="446.58" y="623" width="73.92" height="43"/><rect x="446.58" y="675" width="73.92" height="19"/><rect x="453.62" y="696" width="66.88" height="14"/><rect x="662.7" y="122" width="70.8" height="5"/><rect x="662.7" y="128" width="70.8" height="3"/><rect x="662.7" y="158" width="70.8" height="3"/><rect x="676.86" y="287" width="56.64" height="2"/><rect x="676.86" y="290" width="56.64" height="4"/><rect x="676.86" y="318" width="56.64" height="5"/><rect x="676.86" y="324" width="56.64" height="4"/><rect x="662.7" y="339" width="70.8" height="8"/><rect x="659.16" y="356" width="74.34" height="16"/><rect x="666.24" y="472" width="67.26" height="6"/><rect x="666.24" y="479" width="67.26" height="10"/><rect x="556.5" y="564" width="177" height="10"/><rect x="671.55" y="589" width="61.95" height="3"/><rect x="662.7" y="609" width="70.8" height="13"/><rect x="659.16" y="623" width="74.34" height="43"/><rect x="659.16" y="675" width="74.34" height="19"/><rect x="666.24" y="696" width="67.26" height="14"/><rect x="874.7" y="122" width="70.8" height="5"/><rect x="874.7" y="128" width="70.8" height="3"/><rect x="874.7" y="158" width="70.8" height="3"/><rect x="888.86" y="287" width="56.64" height="2"/><rect x="888.86" y="290" width="56.64" height="4"/><rect x="888.86" y="318" width="56.64" height="5"/><rect x="888.86" y="324" width="56.64" height="4"/><rect x="874.7" y="339" width="70.8" height="8"/><rect x="871.16" y="356" width="74.34" height="16"/><rect x="878.24" y="472" width="67.26" height="6"/><rect x="878.24" y="479" width="67.26" height="10"/><rect x="768.5" y="564" width="177" height="10"/><rect x="883.55" y="589" width="61.95" height="3"/><rect x="874.7" y="609" width="70.8" height="13"/><rect x="871.16" y="623" width="74.34" height="43"/><rect x="871.16" y="675" width="74.34" height="19"/><rect x="878.24" y="696" width="67.26" height="14"/></g>
<g filter="url(#np)"><rect x="131.5" y="99" width="177" height="3" fill="url(#r0)"/><rect x="131.5" y="107" width="177" height="8" fill="url(#r1)"/><rect x="237.7" y="122" width="70.8" height="5" fill="url(#mr)"/><rect x="237.7" y="128" width="70.8" height="3" fill="url(#mr)"/><rect x="237.7" y="158" width="70.8" height="3" fill="url(#mr)"/><rect x="251.86" y="287" width="56.64" height="2" fill="url(#mr)"/><rect x="131.5" y="287" width="120.36" height="2" fill="url(#r2)"/><rect x="251.86" y="290" width="56.64" height="4" fill="url(#mr)"/><rect x="131.5" y="290" width="120.36" height="4" fill="url(#r2)"/><rect x="251.86" y="318" width="56.64" height="5" fill="url(#mr)"/><rect x="131.5" y="318" width="120.36" height="5" fill="url(#r2)"/><rect x="251.86" y="324" width="56.64" height="4" fill="url(#mr)"/><rect x="131.5" y="324" width="120.36" height="4" fill="url(#r2)"/><rect x="237.7" y="339" width="70.8" height="8" fill="url(#mr)"/><rect x="241.24" y="348" width="67.26" height="7" fill="url(#r2)"/><rect x="234.16" y="356" width="74.34" height="16" fill="url(#mr)"/><rect x="237.7" y="381" width="70.8" height="1" fill="url(#r2)"/><rect x="131.5" y="381" width="106.2" height="1" fill="url(#r3)"/><rect x="237.7" y="387" width="70.8" height="18" fill="url(#r2)"/><rect x="131.5" y="387" width="106.2" height="18" fill="url(#r4)"/><rect x="237.7" y="406" width="70.8" height="2" fill="url(#r2)"/><rect x="131.5" y="406" width="106.2" height="2" fill="url(#r5)"/><rect x="241.24" y="472" width="67.26" height="6" fill="url(#mr)"/><rect x="131.5" y="472" width="109.74" height="6" fill="url(#r3)"/><rect x="241.24" y="479" width="67.26" height="10" fill="url(#mr)"/><rect x="131.5" y="479" width="109.74" height="10" fill="url(#r3)"/><rect x="131.5" y="550" width="177" height="3" fill="url(#r6)"/><rect x="131.5" y="564" width="177" height="10" fill="url(#r7)"/><rect x="131.5" y="577" width="177" height="2" fill="url(#r6)"/><rect x="131.5" y="584" width="177" height="2" fill="url(#r8)"/><rect x="131.5" y="587" width="177" height="1" fill="url(#r8)"/><rect x="246.55" y="589" width="61.95" height="3" fill="url(#mr)"/><rect x="131.5" y="589" width="115.05" height="3" fill="url(#r9)"/><rect x="237.7" y="609" width="70.8" height="13" fill="url(#mr)"/><rect x="234.16" y="623" width="74.34" height="43" fill="url(#mr)"/><rect x="131.5" y="667" width="177" height="6" fill="url(#r10)"/><rect x="234.16" y="675" width="74.34" height="19" fill="url(#mr)"/><rect x="241.24" y="696" width="67.26" height="14" fill="url(#mr)"/><rect x="344.5" y="99" width="176" height="3" fill="url(#r11)"/><rect x="344.5" y="107" width="176" height="8" fill="url(#r12)"/><rect x="450.1" y="122" width="70.4" height="5" fill="url(#mr)"/><rect x="450.1" y="128" width="70.4" height="3" fill="url(#mr)"/><rect x="450.1" y="158" width="70.4" height="3" fill="url(#mr)"/><rect x="464.18" y="287" width="56.32" height="2" fill="url(#mr)"/><rect x="344.5" y="287" width="119.68" height="2" fill="url(#r2)"/><rect x="464.18" y="290" width="56.32" height="4" fill="url(#mr)"/><rect x="344.5" y="290" width="119.68" height="4" fill="url(#r2)"/><rect x="464.18" y="318" width="56.32" height="5" fill="url(#mr)"/><rect x="344.5" y="318" width="119.68" height="5" fill="url(#r2)"/><rect x="464.18" y="324" width="56.32" height="4" fill="url(#mr)"/><rect x="344.5" y="324" width="119.68" height="4" fill="url(#r2)"/><rect x="450.1" y="339" width="70.4" height="8" fill="url(#mr)"/><rect x="453.62" y="348" width="66.88" height="7" fill="url(#r2)"/><rect x="446.58" y="356" width="73.92" height="16" fill="url(#mr)"/><rect x="450.1" y="381" width="70.4" height="1" fill="url(#r2)"/><rect x="344.5" y="381" width="105.6" height="1" fill="url(#r3)"/><rect x="450.1" y="387" width="70.4" height="18" fill="url(#r2)"/><rect x="344.5" y="387" width="105.6" height="18" fill="url(#r4)"/><rect x="450.1" y="406" width="70.4" height="2" fill="url(#r2)"/><rect x="344.5" y="406" width="105.6" height="2" fill="url(#r5)"/><rect x="453.62" y="472" width="66.88" height="6" fill="url(#mr)"/><rect x="344.5" y="472" width="109.12" height="6" fill="url(#r3)"/><rect x="453.62" y="479" width="66.88" height="10" fill="url(#mr)"/><rect x="344.5" y="479" width="109.12" height="10" fill="url(#r3)"/><rect x="344.5" y="550" width="176" height="3" fill="url(#r6)"/><rect x="344.5" y="564" width="176" height="10" fill="url(#r7)"/><rect x="344.5" y="577" width="176" height="2" fill="url(#r6)"/><rect x="344.5" y="584" width="176" height="2" fill="url(#r8)"/><rect x="344.5" y="587" width="176" height="1" fill="url(#r8)"/><rect x="458.9" y="589" width="61.6" height="3" fill="url(#mr)"/><rect x="344.5" y="589" width="114.4" height="3" fill="url(#r9)"/><rect x="450.1" y="609" width="70.4" height="13" fill="url(#mr)"/><rect x="446.58" y="623" width="73.92" height="43" fill="url(#mr)"/><rect x="344.5" y="667" width="176" height="6" fill="url(#r10)"/><rect x="446.58" y="675" width="73.92" height="19" fill="url(#mr)"/><rect x="453.62" y="696" width="66.88" height="14" fill="url(#mr)"/><rect x="662.7" y="122" width="70.8" height="5" fill="url(#mr)"/><rect x="662.7" y="128" width="70.8" height="3" fill="url(#mr)"/><rect x="662.7" y="158" width="70.8" height="3" fill="url(#mr)"/><rect x="676.86" y="287" width="56.64" height="2" fill="url(#mr)"/><rect x="676.86" y="290" width="56.64" height="4" fill="url(#mr)"/><rect x="676.86" y="318" width="56.64" height="5" fill="url(#mr)"/><rect x="676.86" y="324" width="56.64" height="4" fill="url(#mr)"/><rect x="662.7" y="339" width="70.8" height="8" fill="url(#mr)"/><rect x="666.24" y="348" width="67.26" height="7" fill="url(#r2)"/><rect x="659.16" y="356" width="74.34" height="16" fill="url(#mr)"/><rect x="662.7" y="381" width="70.8" height="1" fill="url(#r2)"/><rect x="662.7" y="387" width="70.8" height="18" fill="url(#r2)"/><rect x="662.7" y="406" width="70.8" height="2" fill="url(#r2)"/><rect x="666.24" y="472" width="67.26" height="6" fill="url(#mr)"/><rect x="666.24" y="479" width="67.26" height="10" fill="url(#mr)"/><rect x="556.5" y="564" width="177" height="10" fill="url(#r7)"/><rect x="671.55" y="589" width="61.95" height="3" fill="url(#mr)"/><rect x="662.7" y="609" width="70.8" height="13" fill="url(#mr)"/><rect x="659.16" y="623" width="74.34" height="43" fill="url(#mr)"/><rect x="659.16" y="675" width="74.34" height="19" fill="url(#mr)"/><rect x="666.24" y="696" width="67.26" height="14" fill="url(#mr)"/><rect x="874.7" y="122" width="70.8" height="5" fill="url(#mr)"/><rect x="874.7" y="128" width="70.8" height="3" fill="url(#mr)"/><rect x="874.7" y="158" width="70.8" height="3" fill="url(#mr)"/><rect x="888.86" y="287" width="56.64" height="2" fill="url(#mr)"/><rect x="888.86" y="290" width="56.64" height="4" fill="url(#mr)"/><rect x="888.86" y="318" width="56.64" height="5" fill="url(#mr)"/><rect x="888.86" y="324" width="56.64" height="4" fill="url(#mr)"/><rect x="874.7" y="339" width="70.8" height="8" fill="url(#mr)"/><rect x="878.24" y="348" width="67.26" height="7" fill="url(#r2)"/><rect x="871.16" y="356" width="74.34" height="16" fill="url(#mr)"/><rect x="874.7" y="381" width="70.8" height="1" fill="url(#r2)"/><rect x="874.7" y="387" width="70.8" height="18" fill="url(#r2)"/><rect x="874.7" y="406" width="70.8" height="2" fill="url(#r2)"/><rect x="878.24" y="472" width="67.26" height="6" fill="url(#mr)"/><rect x="878.24" y="479" width="67.26" height="10" fill="url(#mr)"/><rect x="768.5" y="564" width="177" height="10" fill="url(#r7)"/><rect x="883.55" y="589" width="61.95" height="3" fill="url(#mr)"/><rect x="874.7" y="609" width="70.8" height="13" fill="url(#mr)"/><rect x="871.16" y="623" width="74.34" height="43" fill="url(#mr)"/><rect x="871.16" y="675" width="74.34" height="19" fill="url(#mr)"/><rect x="878.24" y="696" width="67.26" height="14" fill="url(#mr)"/></g>
<path d="M131.5 594.5h177M131.5 711.5h177M131.5 716.5h177M131.5 718.5h177M344.5 594.5h176M344.5 711.5h176M344.5 716.5h176M344.5 718.5h176M556.5 594.5h177M556.5 711.5h177M556.5 716.5h177M556.5 718.5h177M768.5 594.5h177M768.5 711.5h177M768.5 716.5h177M768.5 718.5h177" stroke="#fff" stroke-width="1" stroke-dasharray="1.1 1.6641" stroke-dashoffset="1.1" fill="none" shape-rendering="crispEdges"/>
<g fill="#000" shape-rendering="crispEdges"><rect x="131.5" y="96" width="177" height="1"/><rect x="131.5" y="115" width="177" height="2"/><rect x="131.5" y="131" width="177" height="2"/><rect x="131.5" y="163" width="177" height="1"/><rect x="131.5" y="329" width="177" height="1"/><rect x="131.5" y="331" width="177" height="5"/><rect x="131.5" y="347" width="177" height="1"/><rect x="131.5" y="382" width="177" height="1"/><rect x="131.5" y="410" width="177" height="2"/><rect x="131.5" y="491" width="177" height="1"/><rect x="131.5" y="546" width="177" height="2"/><rect x="131.5" y="574" width="177" height="1"/><rect x="131.5" y="588" width="177" height="1"/><rect x="131.5" y="592" width="177" height="2"/><rect x="131.5" y="603" width="177" height="1"/><rect x="131.5" y="666" width="177" height="1"/><rect x="131.5" y="674" width="177" height="1"/><rect x="131.5" y="710" width="177" height="1"/><rect x="344.5" y="96" width="176" height="1"/><rect x="344.5" y="115" width="176" height="2"/><rect x="344.5" y="131" width="176" height="2"/><rect x="344.5" y="163" width="176" height="1"/><rect x="344.5" y="329" width="176" height="1"/><rect x="344.5" y="331" width="176" height="5"/><rect x="344.5" y="347" width="176" height="1"/><rect x="344.5" y="382" width="176" height="1"/><rect x="344.5" y="410" width="176" height="2"/><rect x="344.5" y="491" width="176" height="1"/><rect x="344.5" y="546" width="176" height="2"/><rect x="344.5" y="574" width="176" height="1"/><rect x="344.5" y="588" width="176" height="1"/><rect x="344.5" y="592" width="176" height="2"/><rect x="344.5" y="603" width="176" height="1"/><rect x="344.5" y="666" width="176" height="1"/><rect x="344.5" y="674" width="176" height="1"/><rect x="344.5" y="710" width="176" height="1"/><rect x="556.5" y="96" width="177" height="1"/><rect x="556.5" y="115" width="177" height="2"/><rect x="556.5" y="131" width="177" height="2"/><rect x="556.5" y="163" width="177" height="1"/><rect x="556.5" y="329" width="177" height="1"/><rect x="556.5" y="331" width="177" height="5"/><rect x="556.5" y="347" width="177" height="1"/><rect x="556.5" y="382" width="177" height="1"/><rect x="556.5" y="410" width="177" height="2"/><rect x="556.5" y="491" width="177" height="1"/><rect x="556.5" y="546" width="177" height="2"/><rect x="556.5" y="574" width="177" height="1"/><rect x="556.5" y="588" width="177" height="1"/><rect x="556.5" y="592" width="177" height="2"/><rect x="556.5" y="603" width="177" height="1"/><rect x="556.5" y="666" width="177" height="1"/><rect x="556.5" y="674" width="177" height="1"/><rect x="556.5" y="710" width="177" height="1"/><rect x="768.5" y="96" width="177" height="1"/><rect x="768.5" y="115" width="177" height="2"/><rect x="768.5" y="131" width="177" height="2"/><rect x="768.5" y="163" width="177" height="1"/><rect x="768.5" y="329" width="177" height="1"/><rect x="768.5" y="331" width="177" height="5"/><rect x="768.5" y="347" width="177" height="1"/><rect x="768.5" y="382" width="177" height="1"/><rect x="768.5" y="410" width="177" height="2"/><rect x="768.5" y="491" width="177" height="1"/><rect x="768.5" y="546" width="177" height="2"/><rect x="768.5" y="574" width="177" height="1"/><rect x="768.5" y="588" width="177" height="1"/><rect x="768.5" y="592" width="177" height="2"/><rect x="768.5" y="603" width="177" height="1"/><rect x="768.5" y="666" width="177" height="1"/><rect x="768.5" y="674" width="177" height="1"/><rect x="768.5" y="710" width="177" height="1"/></g>
<rect x="131.5" y="80.5" width="177" height="640" fill="none" stroke="#000" stroke-width="1" shape-rendering="crispEdges"/><path d="M173 714.5h1v5.5h-1zM173 81h1v5.5h-1zM214 714.5h1v5.5h-1zM214 81h1v5.5h-1zM256 714.5h1v5.5h-1zM256 81h1v5.5h-1zM297 714.5h1v5.5h-1zM297 81h1v5.5h-1zM132 587h5.5v1h-5.5zM308 587h-5.5v1h5.5zM132 453h5.5v1h-5.5zM308 453h-5.5v1h5.5zM132 320h5.5v1h-5.5zM308 320h-5.5v1h5.5zM132 187h5.5v1h-5.5zM308 187h-5.5v1h5.5z" fill="#333"/><text x="131.3" y="736" font-size="12" text-anchor="middle">320</text><text x="173.3" y="736" font-size="12" text-anchor="middle">335</text><text x="214.3" y="736" font-size="12" text-anchor="middle">350</text><text x="256.3" y="736" font-size="12" text-anchor="middle">365</text><text x="297.3" y="736" font-size="12" text-anchor="middle">380</text><text x="126.7" y="723.9" font-size="12" text-anchor="end">0</text><text x="126.7" y="589.9" font-size="12" text-anchor="end">5</text><text x="126.7" y="456.9" font-size="12" text-anchor="end">10</text><text x="126.7" y="323.9" font-size="12" text-anchor="end">15</text><text x="126.7" y="189.9" font-size="12" text-anchor="end">20</text><rect x="344.5" y="80.5" width="176" height="640" fill="none" stroke="#000" stroke-width="1" shape-rendering="crispEdges"/><path d="M385 714.5h1v5.5h-1zM385 81h1v5.5h-1zM426 714.5h1v5.5h-1zM426 81h1v5.5h-1zM468 714.5h1v5.5h-1zM468 81h1v5.5h-1zM509 714.5h1v5.5h-1zM509 81h1v5.5h-1zM345 587h5.5v1h-5.5zM520 587h-5.5v1h5.5zM345 453h5.5v1h-5.5zM520 453h-5.5v1h5.5zM345 320h5.5v1h-5.5zM520 320h-5.5v1h5.5zM345 187h5.5v1h-5.5zM520 187h-5.5v1h5.5z" fill="#333"/><text x="344.3" y="736" font-size="12" text-anchor="middle">320</text><text x="385.3" y="736" font-size="12" text-anchor="middle">335</text><text x="426.3" y="736" font-size="12" text-anchor="middle">350</text><text x="468.3" y="736" font-size="12" text-anchor="middle">365</text><text x="509.3" y="736" font-size="12" text-anchor="middle">380</text><text x="340" y="723.9" font-size="12" text-anchor="end">0</text><text x="340" y="589.9" font-size="12" text-anchor="end">5</text><text x="338.8" y="456.9" font-size="12" text-anchor="end">10</text><text x="338.8" y="323.9" font-size="12" text-anchor="end">15</text><text x="338.8" y="189.9" font-size="12" text-anchor="end">20</text><rect x="556.5" y="80.5" width="177" height="640" fill="none" stroke="#000" stroke-width="1" shape-rendering="crispEdges"/><path d="M597 714.5h1v5.5h-1zM597 81h1v5.5h-1zM639 714.5h1v5.5h-1zM639 81h1v5.5h-1zM680 714.5h1v5.5h-1zM680 81h1v5.5h-1zM722 714.5h1v5.5h-1zM722 81h1v5.5h-1zM557 587h5.5v1h-5.5zM733 587h-5.5v1h5.5zM557 453h5.5v1h-5.5zM733 453h-5.5v1h5.5zM557 320h5.5v1h-5.5zM733 320h-5.5v1h5.5zM557 187h5.5v1h-5.5zM733 187h-5.5v1h5.5z" fill="#333"/><text x="556.3" y="736" font-size="12" text-anchor="middle">320</text><text x="597.3" y="736" font-size="12" text-anchor="middle">335</text><text x="639.3" y="736" font-size="12" text-anchor="middle">350</text><text x="680.3" y="736" font-size="12" text-anchor="middle">365</text><text x="722.3" y="736" font-size="12" text-anchor="middle">380</text><text x="552" y="723.9" font-size="12" text-anchor="end">0</text><text x="552" y="589.9" font-size="12" text-anchor="end">5</text><text x="550.8" y="456.9" font-size="12" text-anchor="end">10</text><text x="550.8" y="323.9" font-size="12" text-anchor="end">15</text><text x="550.8" y="189.9" font-size="12" text-anchor="end">20</text><rect x="768.5" y="80.5" width="177" height="640" fill="none" stroke="#000" stroke-width="1" shape-rendering="crispEdges"/><path d="M810 714.5h1v5.5h-1zM810 81h1v5.5h-1zM851 714.5h1v5.5h-1zM851 81h1v5.5h-1zM892 714.5h1v5.5h-1zM892 81h1v5.5h-1zM934 714.5h1v5.5h-1zM934 81h1v5.5h-1zM769 587h5.5v1h-5.5zM945 587h-5.5v1h5.5zM769 453h5.5v1h-5.5zM945 453h-5.5v1h5.5zM769 320h5.5v1h-5.5zM945 320h-5.5v1h5.5zM769 187h5.5v1h-5.5zM945 187h-5.5v1h5.5z" fill="#333"/><text x="768.3" y="736" font-size="12" text-anchor="middle">320</text><text x="810.3" y="736" font-size="12" text-anchor="middle">335</text><text x="851.3" y="736" font-size="12" text-anchor="middle">350</text><text x="892.3" y="736" font-size="12" text-anchor="middle">365</text><text x="934.3" y="736" font-size="12" text-anchor="middle">380</text><text x="764.1" y="723.9" font-size="12" text-anchor="end">0</text><text x="764.1" y="589.9" font-size="12" text-anchor="end">5</text><text x="762.9" y="456.9" font-size="12" text-anchor="end">10</text><text x="762.9" y="323.9" font-size="12" text-anchor="end">15</text><text x="762.9" y="189.9" font-size="12" text-anchor="end">20</text><text x="220.3" y="73" font-size="15" text-anchor="middle">XX, V0*V11=EA01*EA26</text><text x="432.58" y="73" font-size="15" text-anchor="middle">YY, V0*V11=EA01*EA26</text><text x="644.87" y="73" font-size="15" text-anchor="middle">XY, V0*V11=EA01*EA26</text><text x="857.15" y="73" font-size="15" text-anchor="middle">YX, V0*V11=EA01*EA26</text><text x="525" y="26" font-size="12" textLength="128.5" lengthAdjust="spacing">2023-06-15 0.0-24.0</text><text x="431.7" y="754.6" font-size="12" textLength="103.5" lengthAdjust="spacing">frequency (MHz)</text><text transform="translate(101.2 432.3) rotate(-90)" font-size="12" textLength="64.5" lengthAdjust="spacing">UT (hours)</text><text transform="translate(974.6 439.3) rotate(-90)" font-size="12" textLength="78" lengthAdjust="spacing">phase (deg.)</text><rect x="1019.5" y="160.5" width="15" height="480" fill="url(#cb)" stroke="#000" stroke-width="1" shape-rendering="crispEdges"/><text x="1013.4" y="603" font-size="10.7" text-anchor="end">−150</text><text x="1013.4" y="536" font-size="10.7" text-anchor="end">−100</text><text x="1013.4" y="470" font-size="10.7" text-anchor="end">−50</text><text x="1013.4" y="403" font-size="10.7" text-anchor="end">0</text><text x="1013.4" y="336" font-size="10.7" text-anchor="end">50</text><text x="1013.4" y="270" font-size="10.7" text-anchor="end">100</text><text x="1013.4" y="203" font-size="10.7" text-anchor="end">150</text><path d="M1020 600.1h5.5v0.8h-5.5zM1034 600.1h-5.5v0.8h5.5zM1020 533.1h5.5v0.8h-5.5zM1034 533.1h-5.5v0.8h5.5zM1020 467.1h5.5v0.8h-5.5zM1034 467.1h-5.5v0.8h5.5zM1020 400.1h5.5v0.8h-5.5zM1034 400.1h-5.5v0.8h5.5zM1020 333.1h5.5v0.8h-5.5zM1034 333.1h-5.5v0.8h5.5zM1020 267.1h5.5v0.8h-5.5zM1034 267.1h-5.5v0.8h5.5zM1020 200.1h5.5v0.8h-5.5zM1034 200.1h-5.5v0.8h5.5zM1022.05 161h0.9v5.5h-0.9zM1022.05 640h0.9v-5.5h-0.9zM1025.05 161h0.9v5.5h-0.9zM1025.05 640h0.9v-5.5h-0.9zM1028.05 161h0.9v5.5h-0.9zM1028.05 640h0.9v-5.5h-0.9zM1031.05 161h0.9v5.5h-0.9zM1031.05 640h0.9v-5.5h-0.9z" fill="#000"/><text x="1017.6" y="646.9" font-size="0.8" text-anchor="middle" style="stroke:none;fill:#444">0.0</text><text x="1021.6" y="646.9" font-size="0.8" text-anchor="middle" style="stroke:none;fill:#444">0.2</text><text x="1024.6" y="646.9" font-size="0.8" text-anchor="middle" style="stroke:none;fill:#444">0.4</text><text x="1027.6" y="646.9" font-size="0.8" text-anchor="middle" style="stroke:none;fill:#aaa">0.6</text><text x="1030.6" y="646.9" font-size="0.8" text-anchor="middle" style="stroke:none;fill:#aaa">0.8</text><text x="1033.6" y="646.9" font-size="0.8" text-anchor="middle" style="stroke:none;fill:#aaa">1.0</text>
</svg></body></html>
